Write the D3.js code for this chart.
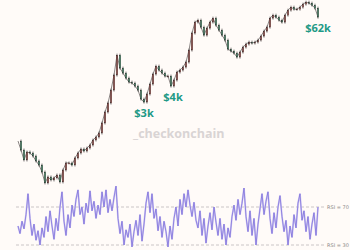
<!DOCTYPE html>
<html>
<head>
<meta charset="utf-8">
<script src="https://cdn.jsdelivr.net/npm/d3@7"></script>
<style>
  body { margin: 0; background: #fffbf8; }
  svg { display: block; }
</style>
</head>
<body>
<svg></svg>
<script>
// closing prices, one candle per period (log scale, no axis shown)
var closes = [746, 541, 379, 504, 486, 437, 366, 317, 247, 167,
  207, 186, 200, 222, 173, 265, 341, 341, 317, 407,
  486, 561, 522, 581, 646, 773, 860, 992, 1416, 2095,
  2888, 4588, 7830, 15960, 10050, 8410, 7040, 6100, 5890, 5292,
  4588, 3330, 2990, 3980, 5680, 8120, 10790, 9360, 8410, 7557,
  7557, 5292, 6550, 8710, 9360, 10410, 12440, 19080, 34980, 51750,
  55560, 43310, 32560, 41800, 51750, 59690, 46490, 38910, 32560, 27250,
  19770, 18410, 17150, 14870, 17770, 21240, 23640, 25380, 24500, 25380,
  27250, 31430, 37560, 43310, 59690, 66390, 61850, 55560, 51750, 66390,
  79340, 88320, 82230, 82230, 88320, 98290, 105500, 101900, 94810, 85240,
  61850];

var rsi = [50, 42, 55, 47, 62, 84, 58, 40, 52, 35,
  45, 30, 48, 38, 60, 44, 66, 50, 36, 58,
  45, 70, 86, 55, 40, 62, 48, 72, 60, 78,
  88, 62, 70, 52, 74, 64, 87, 66, 76, 58,
  72, 62, 86, 70, 88, 64, 78, 66, 80, 92,
  58, 42, 55, 30, 46, 38, 52, 28, 44, 56,
  40, 62, 34, 52, 74, 86, 64, 84, 58, 68,
  45, 60, 38, 55, 44, 28, 50, 36, 58, 70,
  50, 78, 62, 84, 70, 88, 72, 60, 75, 56,
  48, 66, 40, 58, 32, 50, 64, 46, 70, 54,
  40, 58, 36, 52, 30, 48, 38, 60, 72, 56,
  78, 62, 74, 90, 60, 44, 66, 40, 58, 30,
  52, 68, 84, 62, 76, 86, 58, 42, 64, 48,
  70, 82, 60, 44, 56, 30, 50, 38, 62, 48,
  74, 84, 56, 66, 44, 60, 36, 52, 64, 40,
  70];

var rsiLevels = [70, 30];
var notes = [
  {i: 42, text: "$3k"},
  {i: 51, text: "$4k"},
  {i: 100, text: "$62k"}
];

var width = 350, height = 250;
var svg = d3.select("svg").attr("width", width).attr("height", height);

var x = d3.scaleLinear().domain([0, closes.length - 1]).range([18, 318]);
var y = d3.scaleLog().domain([150, 110000]).range([186, 1]);

// watermark
svg.append("text")
  .attr("x", 133).attr("y", 138)
  .attr("font-family", "Open Sans, sans-serif")
  .attr("font-weight", "bold")
  .attr("font-size", 12.5)
  .attr("fill", "#d9d4d4")
  .text("_checkonchain");

// thin trace through the closes
svg.append("path")
  .attr("d", d3.line().x(function(d, i) { return x(i); }).y(function(d) { return y(d); })(closes))
  .attr("fill", "none")
  .attr("stroke", "#3a3434")
  .attr("stroke-width", 0.6);

// candles
var candles = svg.append("g")
  .selectAll("g")
  .data(closes.slice(1))
  .enter()
  .append("g");

candles.append("line")
  .attr("x1", function(d, i) { return x(i + 1); })
  .attr("x2", function(d, i) { return x(i + 1); })
  .attr("y1", function(d, i) { return Math.min(y(d), y(closes[i])) - 1.5; })
  .attr("y2", function(d, i) { return Math.max(y(d), y(closes[i])) + 1.5; })
  .attr("stroke", "#2e2a2a")
  .attr("stroke-width", 0.6);

candles.append("rect")
  .attr("x", function(d, i) { return x(i + 1) - 0.7; })
  .attr("width", 1.4)
  .attr("y", function(d, i) { return Math.min(y(d), y(closes[i])); })
  .attr("height", function(d, i) { return Math.max(0.8, Math.abs(y(d) - y(closes[i]))); })
  .attr("fill", function(d, i) { return d >= closes[i] ? "#9a4a46" : "#3d8a68"; })
  .attr("stroke", "#2e2a2a")
  .attr("stroke-width", 0.3);

// price notes
svg.append("g")
  .selectAll("text")
  .data(notes)
  .enter()
  .append("text")
  .attr("x", function(d) { return x(d.i) + (d.i == 51 ? 2 : 0); })
  .attr("y", function(d) { return y(closes[d.i]) + 15; })
  .attr("text-anchor", "middle")
  .attr("font-family", "Open Sans, sans-serif")
  .attr("font-weight", "bold")
  .attr("font-size", 11)
  .attr("fill", "#1f9a86")
  .text(function(d) { return d.text; });

// RSI panel
var xr = d3.scaleLinear().domain([0, rsi.length - 1]).range([18, 318]);
var yr = d3.scaleLinear().domain([30, 70]).range([245, 207]);

svg.append("g")
  .selectAll("line")
  .data(rsiLevels)
  .enter()
  .append("line")
  .attr("x1", 16).attr("x2", 324)
  .attr("y1", function(d) { return yr(d); })
  .attr("y2", function(d) { return yr(d); })
  .attr("stroke", "#bdb9b9")
  .attr("stroke-width", 0.8)
  .attr("stroke-dasharray", "3,2");

svg.append("g")
  .selectAll("text")
  .data(rsiLevels)
  .enter()
  .append("text")
  .attr("x", 327)
  .attr("y", function(d) { return yr(d) + 2; })
  .attr("font-family", "DejaVu Sans, sans-serif")
  .attr("font-size", 5)
  .attr("fill", "#8a8686")
  .text(function(d) { return "RSI = " + d; });

var rsiLine = d3.line()
  .x(function(d, i) { return xr(i); })
  .y(function(d) { return yr(d); });

svg.append("path")
  .attr("d", rsiLine(rsi))
  .attr("fill", "none")
  .attr("stroke", "#cfc7f2")
  .attr("stroke-width", 1.8);

svg.append("path")
  .attr("d", rsiLine(rsi))
  .attr("fill", "none")
  .attr("stroke", "#7465d8")
  .attr("stroke-width", 0.7);
</script>
</body>
</html>
